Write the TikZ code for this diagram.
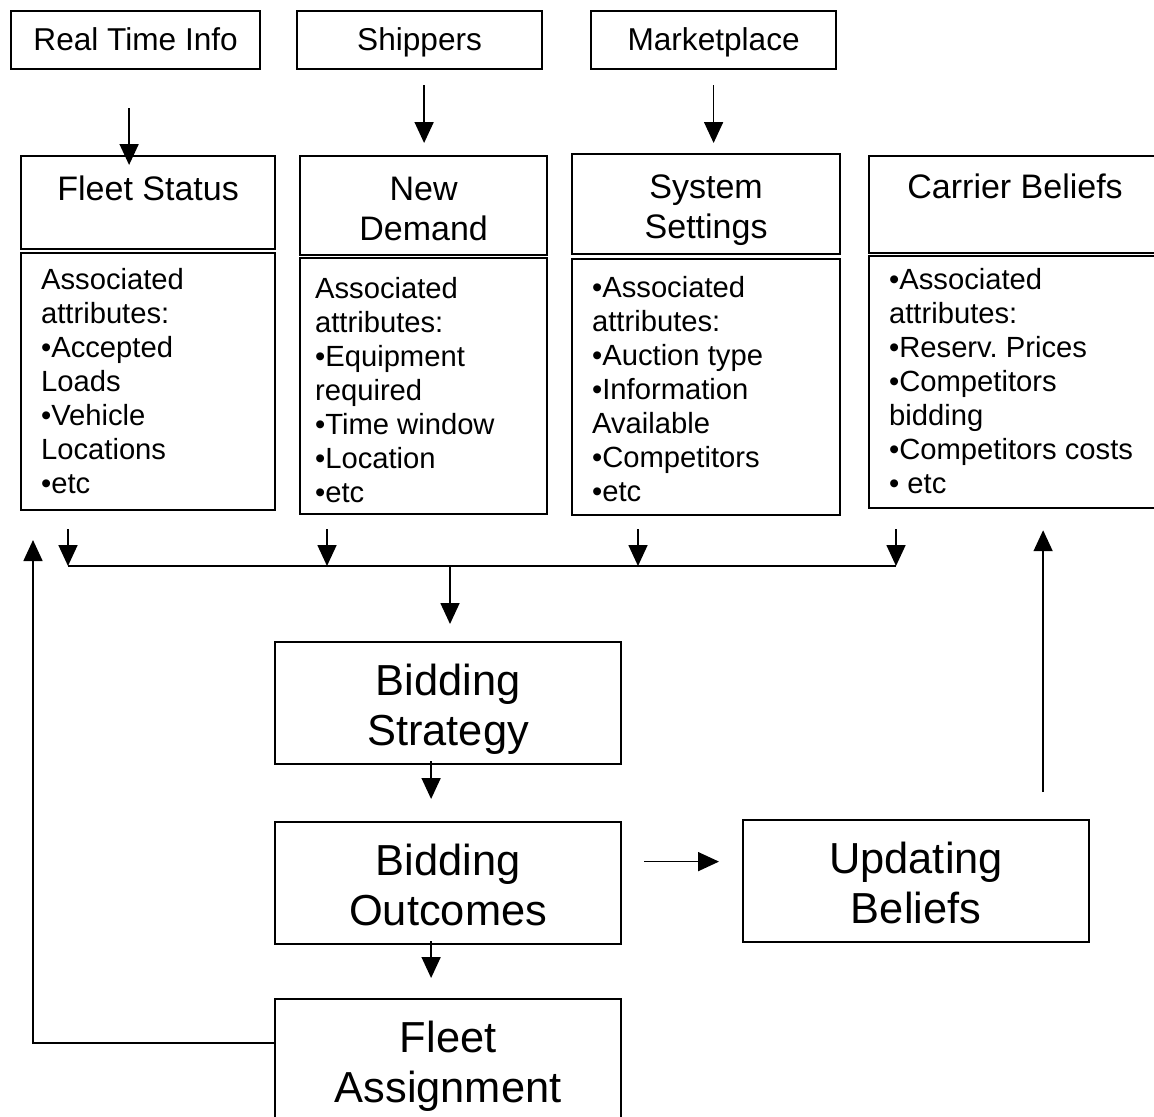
\documentclass[tikz,border=0pt]{standalone}
\usepackage{fontspec}
\setmainfont{Liberation Sans}
\usetikzlibrary{arrows.meta}

\begin{document}
\begin{tikzpicture}[x=0.5pt, y=-0.5pt,
  box/.style={rectangle, draw, line width=1.1pt, inner sep=0pt, anchor=north west},
  src/.style={box, text height=19.65pt, text depth=9.35pt, font=\fontsize{15.8}{19}\selectfont},
  hdr/.style={box, text height=22pt, font=\fontsize{17}{20}\selectfont},
  attr/.style={box, font=\fontsize{14.6}{17}\selectfont},
  big/.style={box, minimum width=173pt, text height=26.5pt, text depth=34.5pt, font=\fontsize{21.7}{25}\selectfont},
  arr/.style={-{Triangle[length=10.5pt, width=9.5pt]}, line width=0.85pt}]
  \useasboundingbox (0,0) rectangle (1154,1116);
  % Sources
  \node (RTI) [src, minimum width=124.5pt] at (10,10) {Real Time Info};
  \node (SHIP) [src, minimum width=122.5pt] at (296,10) {Shippers};
  \node (MKT) [src, minimum width=122.5pt] at (590,10) {Marketplace};
  % State boxes
  \node (FS) [hdr, minimum width=127pt, text depth=24.5pt] at (20,155) {\parbox[t]{120pt}{\centering Fleet Status}};
  \node (FS-ATTR) [attr, minimum width=127pt, text height=18.3pt, text depth=110.2pt] at (20,252)
    {\parbox[t]{107pt}{\raggedright Associated\\attributes:\\•Accepted\\Loads\\•Vehicle\\Locations\\•etc}};
  \node (ND) [hdr, minimum width=123.5pt, text depth=27.5pt] at (299,155) {\parbox[t]{118pt}{\centering New\\Demand}};
  \node (ND-ATTR) [attr, minimum width=123.5pt, text height=20.3pt, text depth=107.7pt] at (299,257)
    {\parbox[t]{108.5pt}{\raggedright Associated\\attributes:\\•Equipment\\required\\•Time window\\•Location\\•etc}};
  \node (SS) [hdr, minimum width=134pt, text depth=28pt] at (571,153) {\parbox[t]{128pt}{\centering System\\Settings}};
  \node (SS-ATTR) [attr, minimum width=134pt, text height=19.3pt, text depth=108.7pt] at (571,258)
    {\parbox[t]{114pt}{\raggedright •Associated\\attributes:\\•Auction type\\•Information\\Available\\•Competitors\\•etc}};
  \node (CB) [hdr, minimum width=146pt, text height=21pt, text depth=27.5pt] at (868,155) {\parbox[t]{140pt}{\centering Carrier Beliefs}};
  \node (CB-ATTR) [attr, minimum width=146pt, text height=16.8pt, text depth=109.2pt] at (868,255)
    {\parbox[t]{126pt}{\raggedright •Associated\\attributes:\\•Reserv.\ Prices\\•Competitors\\bidding\\•Competitors costs\\• etc}};
  % Process boxes
  \node (STRAT) [big] at (274,641) {\parbox[t]{165pt}{\centering Bidding\\Strategy}};
  \node (OUT) [big] at (274,821) {\parbox[t]{165pt}{\centering Bidding\\Outcomes}};
  \node (ASSIGN) [big] at (274,998) {\parbox[t]{165pt}{\centering Fleet\\Assignment}};
  \node (UPD) [big] at (742,819) {\parbox[t]{165pt}{\centering Updating\\Beliefs}};
  % Collector line
  \coordinate (B1) at (68,566);
  \coordinate (B2) at (327,566);
  \coordinate (B3) at (638,566);
  \coordinate (B4) at (896,566);
  \coordinate (BM) at (450,566);
  \coordinate (LOOP) at (33,540);
  % Arrows
  \draw[arr, shorten <=19pt, shorten >=-5pt] ([xshift=-3.25pt]RTI.south) -- ([xshift=-3.25pt]RTI.south |- FS.north);
  \draw[arr, shorten <=7.5pt, shorten >=6pt] ([xshift=2.25pt]SHIP.south) -- ([xshift=2.25pt]SHIP.south |- ND.north);
  \draw[arr, shorten <=7.5pt, shorten >=5pt] (MKT.south) -- (MKT.south |- SS.north);
  \draw[arr, shorten <=9pt] (FS-ATTR.south -| B1) -- (B1);
  \draw[arr, shorten <=7pt] (ND-ATTR.south -| B2) -- (B2);
  \draw[arr, shorten <=6.5pt] (SS-ATTR.south -| B3) -- (B3);
  \draw[arr, shorten <=10pt] (CB-ATTR.south -| B4) -- (B4);
  \draw[line width=0.85pt] (B1) -- (B4);
  \draw[arr, shorten >=8.5pt] (BM) -- (BM |- STRAT.north);
  \draw[arr, shorten <=-2pt, shorten >=11pt] ([xshift=-8.5pt]STRAT.south) -- ([xshift=-8.5pt]OUT.north);
  \draw[arr, shorten <=-2pt, shorten >=10pt] ([xshift=-8.5pt]OUT.south) -- ([xshift=-8.5pt]ASSIGN.north);
  \draw[arr, shorten <=11pt, shorten >=11.5pt] ([yshift=10.75pt]OUT.east) -- ([yshift=10.75pt]OUT.east -| UPD.west);
  \draw[arr, shorten <=13.5pt, shorten >=10.5pt] ([xshift=63.5pt]UPD.north) -- ([xshift=63.5pt]UPD.north |- CB-ATTR.south);
  \draw[arr] ([yshift=8.5pt]ASSIGN.west) -| (LOOP);
\end{tikzpicture}
\end{document}
